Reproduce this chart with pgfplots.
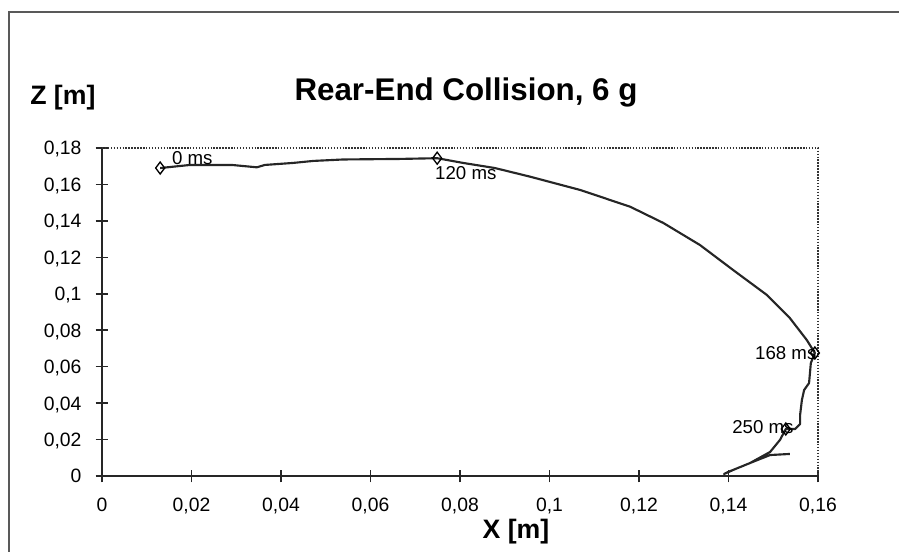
\documentclass[border=0pt]{standalone}
\usepackage{pgfplots}
\pgfplotsset{compat=1.18}
\usepackage{fontspec}
\setmainfont{Liberation Sans}
\begin{document}
\begin{tikzpicture}
\path[use as bounding box] (0,0) rectangle (674.25pt,414pt);
% outer frame (top and left visible)
\draw[line width=1.5pt, black!65] (6.75pt,-2pt) -- (6.75pt,405pt) -- (680pt,405pt);
% title and axis labels
\node[anchor=base, inner sep=0pt, font=\fontsize{23.5pt}{26pt}\selectfont\bfseries] at (349.5pt,338.25pt) {Rear-End Collision, 6 g};
\node[anchor=base west, inner sep=0pt, font=\fontsize{20pt}{22pt}\selectfont\bfseries] at (22.5pt,335.25pt) {Z [m]};
\node[anchor=base, inner sep=0pt, font=\fontsize{20pt}{22pt}\selectfont\bfseries] at (387pt,9.75pt) {X [m]};
\begin{axis}[
  at={(76.5pt,57pt)}, anchor=south west,
  scale only axis, width=537pt, height=246pt,
  xmin=0, xmax=0.16, ymin=0, ymax=0.18,
  axis lines*=left,
  axis line style={line width=1.1pt, black!85, -},
  xtick={0,0.02,0.04,0.06,0.08,0.1,0.12,0.14,0.16},
  xticklabels={0,{0,02},{0,04},{0,06},{0,08},{0,1},{0,12},{0,14},{0,16}},
  ytick={0,0.02,0.04,0.06,0.08,0.1,0.12,0.14,0.16,0.18},
  yticklabels={0,{0,02},{0,04},{0,06},{0,08},{0,1},{0,12},{0,14},{0,16},{0,18}},
  tick align=center, major tick length=9.5pt,
  every tick/.style={line width=1.1pt, black!85},
  tick label style={font=\fontsize{14.5pt}{16pt}\selectfont},
  xticklabel style={anchor=base, inner sep=0pt, yshift=-21.75pt},
  yticklabel style={anchor=base east, inner sep=0pt, xshift=-10.5pt, yshift=-5.25pt},
  clip=false,
]
\draw[black!80, line width=1.1pt, dash pattern=on 1.1pt off 1.1pt] (rel axis cs:0,1) -- (rel axis cs:1,1) -- (rel axis cs:1,0);
\addplot[black!85, line width=1.6pt, line join=round] coordinates {
(0.0130,0.1690) (0.0197,0.1707) (0.0290,0.1707) (0.0346,0.1694) (0.0364,0.1707)
(0.0427,0.1718) (0.0472,0.1729) (0.0539,0.1737) (0.0666,0.1740) (0.0749,0.1744)
(0.0807,0.1718) (0.0878,0.1690) (0.0956,0.1643) (0.1068,0.1570) (0.1180,0.1478)
(0.1254,0.1389) (0.1336,0.1268) (0.1410,0.1131) (0.1486,0.0993) (0.1537,0.0867)
(0.1575,0.0746) (0.1593,0.0675) (0.1584,0.0620) (0.1580,0.0510) (0.1569,0.0472)
(0.1564,0.0417) (0.1560,0.0335) (0.1560,0.0285) (0.1549,0.0258) (0.1528,0.0258)
(0.1515,0.0198) (0.1493,0.0132) (0.1448,0.0071) (0.1399,0.0022) (0.1390,0.0011)
(0.1415,0.0038) (0.1459,0.0082) (0.1493,0.0115) (0.1537,0.0121)
};
\addplot[only marks, mark=diamond, mark size=4.5pt, mark options={black, line width=1pt, fill=white}] coordinates {
(0.0130,0.1690) (0.0749,0.1744) (0.1593,0.0675) (0.1528,0.0258)
};
\node[anchor=base west, inner sep=0pt, font=\fontsize{14pt}{15pt}\selectfont] at (axis cs:0.0156,0.1707) {0 ms};
\node[anchor=base west, inner sep=0pt, font=\fontsize{14pt}{15pt}\selectfont] at (axis cs:0.0744,0.1625) {120 ms};
\node[anchor=base west, inner sep=0pt, font=\fontsize{14pt}{15pt}\selectfont] at (axis cs:0.1459,0.0637) {168 ms};
\node[anchor=base west, inner sep=0pt, font=\fontsize{14pt}{15pt}\selectfont] at (axis cs:0.1408,0.0231) {250 ms};
\end{axis}
\end{tikzpicture}
\end{document}
